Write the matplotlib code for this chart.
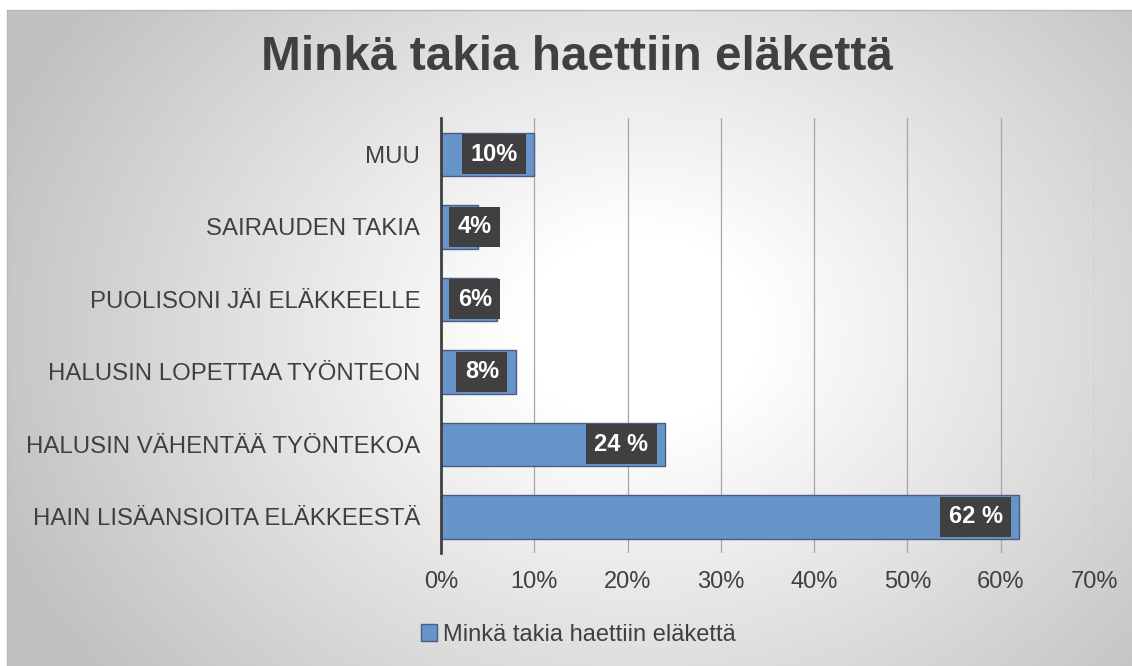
import numpy as np
import matplotlib
matplotlib.use('Agg')
import matplotlib.pyplot as plt
from matplotlib.patches import Patch

# data
categories = ['HAIN LISÄANSIOITA ELÄKKEESTÄ', 'HALUSIN VÄHENTÄÄ TYÖNTEKOA',
              'HALUSIN LOPETTAA TYÖNTEON', 'PUOLISONI JÄI ELÄKKEELLE',
              'SAIRAUDEN TAKIA', 'MUU']
values = [62, 24, 8, 6, 4, 10]
value_labels = ['62 %', '24 %', '8%', '6%', '4%', '10%']
xticks = [0, 10, 20, 30, 40, 50, 60, 70]
xtick_labels = ['0%', '10%', '20%', '30%', '40%', '50%', '60%', '70%']
title = 'Minkä takia haettiin eläkettä'
series_name = 'Minkä takia haettiin eläkettä'

plt.rcParams['font.family'] = ['Liberation Sans', 'DejaVu Sans']
txt = '#404040'

W, H = 1132, 666
fig = plt.figure(figsize=(W / 100, H / 100), dpi=100)
fig.patch.set_facecolor('white')

# radial gradient background of the chart area
bg = fig.add_axes([7 / W, 0, 1 - 7 / W, 1 - 10 / H], zorder=-5)
yy, xx = np.mgrid[10:H, 7:W]
r = np.hypot(xx - 640, (yy - 330) * 1.25)
g = 1 - 0.24 * np.clip((r - 120) / 560, 0, 1)
bg.imshow(np.dstack([g, g, g]), aspect='auto', extent=[0, 1, 0, 1])
bg.set_axis_off()
fig.add_artist(plt.Line2D([7 / W, 1], [1 - 10 / H, 1 - 10 / H], color='#b8b8b8', lw=1))
fig.add_artist(plt.Line2D([7 / W, 7 / W], [0, 1 - 10 / H], color='#b8b8b8', lw=1))

ax = fig.add_axes([441 / W, 1 - 553 / H, (1094 - 441) / W, (553 - 118) / H])
ax.patch.set_alpha(0)
y = np.arange(len(categories))
ax.barh(y, values, height=0.6, color='#6794c9', edgecolor='#4a5f7e', linewidth=1, zorder=3)

ax.set_xlim(0, 70)
ax.set_ylim(-0.5, len(categories) - 0.5)
ax.set_xticks(xticks)
ax.set_xticklabels(xtick_labels)
ax.set_yticks(y)
ax.set_yticklabels(categories)
ax.tick_params(axis='x', length=0, pad=13, labelsize=17, labelcolor=txt)
ax.tick_params(axis='y', length=0, pad=15, labelsize=17.3, labelcolor=txt)
ax.grid(axis='x', color='#a6a6a6', linewidth=0.9, zorder=1)
for s in ['top', 'right', 'bottom']:
    ax.spines[s].set_visible(False)
ax.spines['left'].set_color(txt)
ax.spines['left'].set_linewidth(2)
ax.spines['left'].set_zorder(4)

# data labels
for i, (v, lab) in enumerate(zip(values, value_labels)):
    if v >= 8:
        ax.annotate(lab, xy=(v, i), xytext=(-12, 0), textcoords='offset points',
                    ha='right', va='center', color='white', fontsize=17,
                    fontweight='bold', zorder=5,
                    bbox=dict(boxstyle='square,pad=0.36', fc=txt, ec='none'))
    else:
        ax.annotate(lab, xy=(0, i), xytext=(12, 0), textcoords='offset points',
                    ha='left', va='center', color='white', fontsize=17,
                    fontweight='bold', zorder=5,
                    bbox=dict(boxstyle='square,pad=0.36', fc=txt, ec='none'))

fig.text(0.51, 1 - 57 / H, title, ha='center', va='center', fontsize=34.4,
         fontweight='bold', color=txt)

handle = Patch(facecolor='#6794c9', edgecolor='#4a5f7e', linewidth=1)
fig.legend([handle], [series_name], loc='center', bbox_to_anchor=(0.511, 1 - 635 / H),
           frameon=False, fontsize=17, labelcolor=txt, handlelength=0.7,
           handleheight=0.7, handletextpad=0.25)

fig.savefig('out.png', dpi=100)
